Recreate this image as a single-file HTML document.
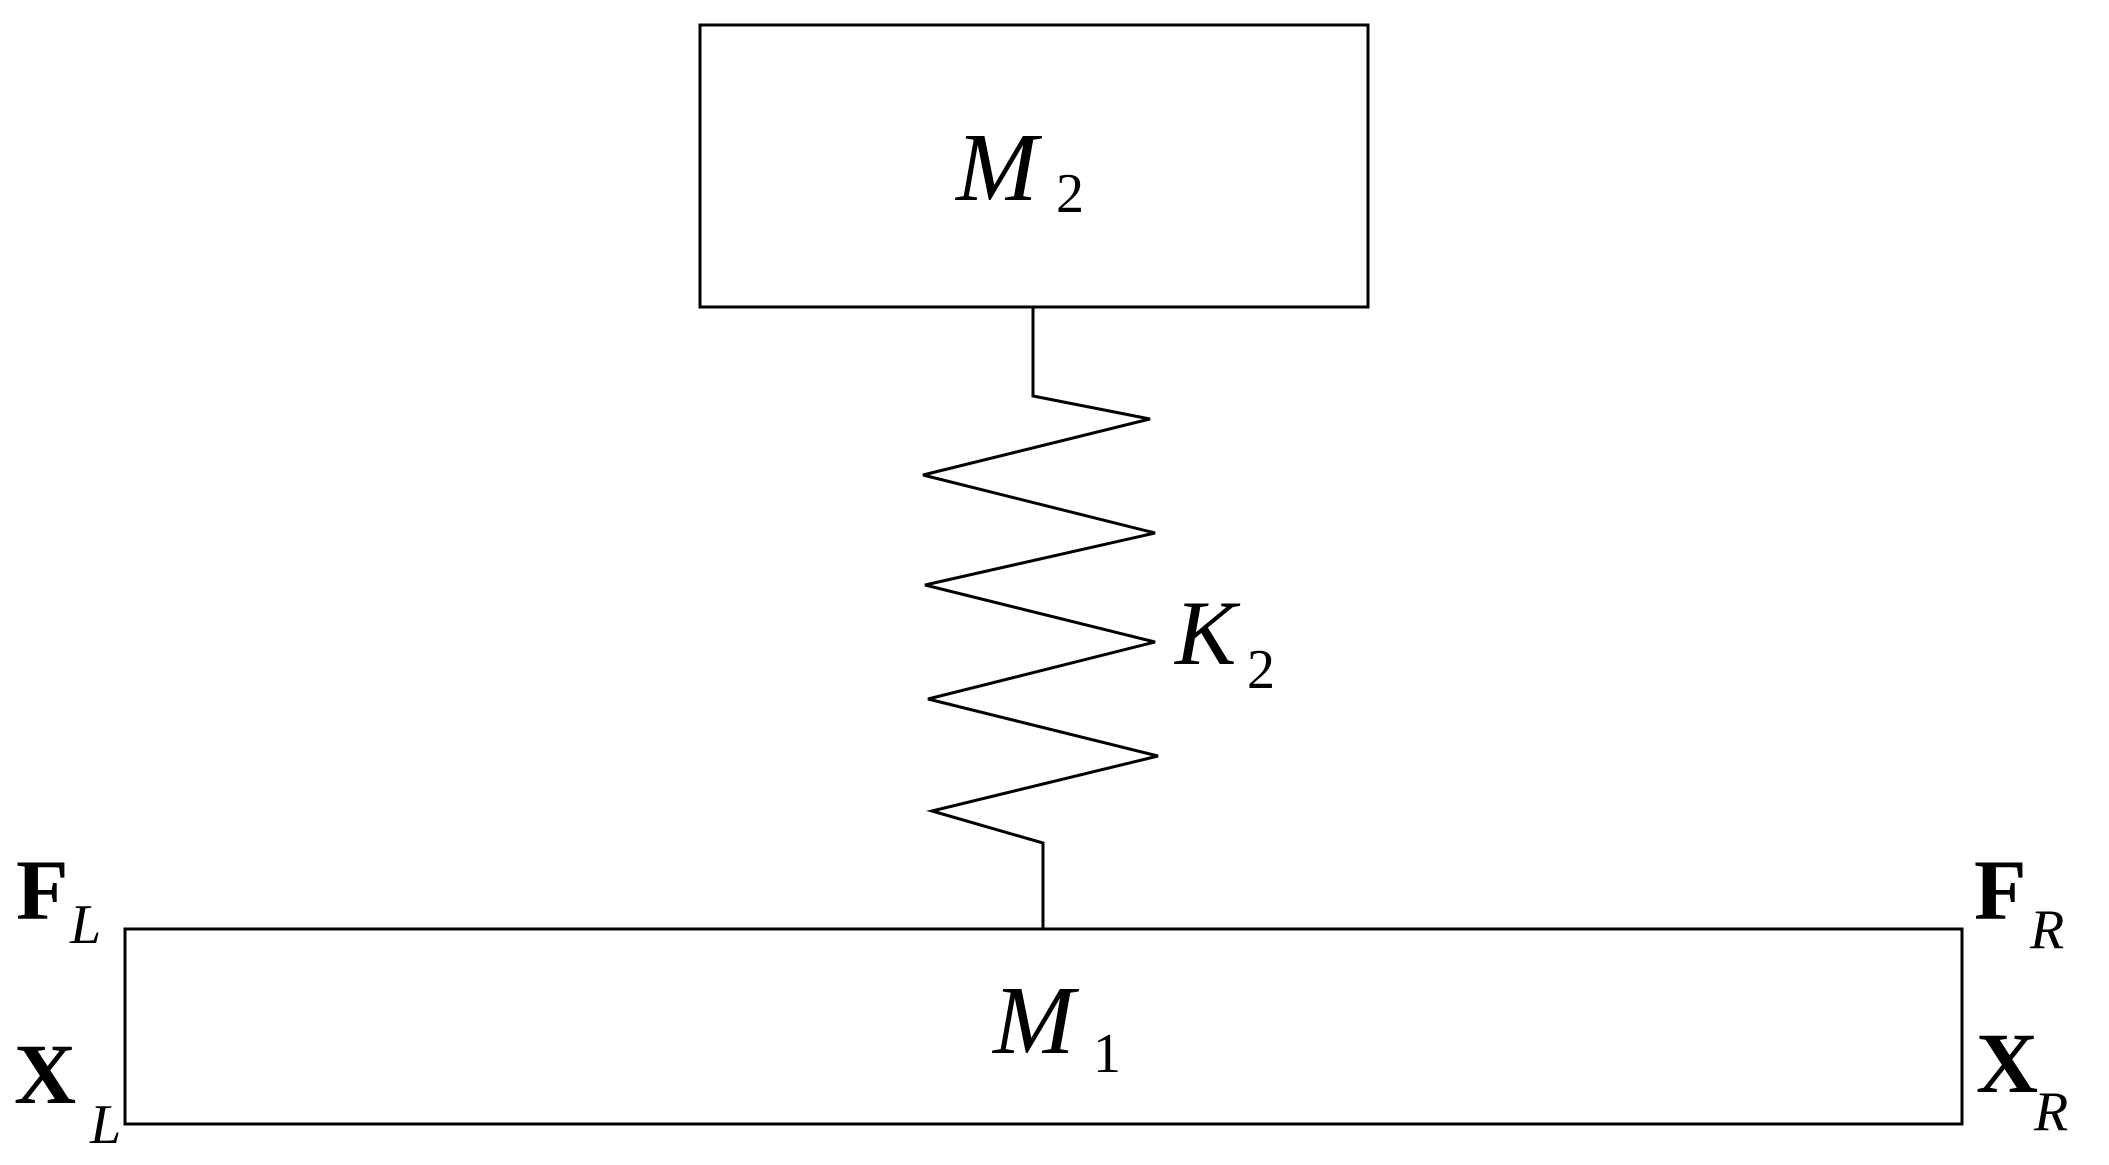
<!DOCTYPE html>
<html><head><meta charset="utf-8"><style>
html,body{margin:0;padding:0;background:#fff;}
svg{display:block;}
text{font-family:"Liberation Serif",serif;fill:#000;}
</style></head><body>
<svg width="2109" height="1165" viewBox="0 0 2109 1165" xmlns="http://www.w3.org/2000/svg">
<rect x="700" y="25" width="668" height="282" fill="none" stroke="#000" stroke-width="3"/>
<rect x="125" y="929" width="1837" height="195" fill="none" stroke="#000" stroke-width="3"/>
<polyline fill="none" stroke="#000" stroke-width="3" stroke-linejoin="miter" points="1033,307 1033,396 1150,419 923,475 1155,533 925,585 1155,642 928,699 1158,756 932,811 1043,843 1043,929"/>
<text x="956" y="200" font-size="98" font-style="italic">M</text>
<text x="1056" y="212" font-size="56">2</text>
<text x="1175" y="664" font-size="92" font-style="italic">K</text>
<text x="1247" y="688" font-size="56">2</text>
<text x="993" y="1053" font-size="98" font-style="italic">M</text>
<text x="1093" y="1072" font-size="56">1</text>
<text x="16" y="919" font-size="86" font-weight="bold">F</text>
<text x="70" y="943" font-size="56" font-style="italic">L</text>
<text x="14" y="1103" font-size="86" font-weight="bold">X</text>
<text x="90" y="1143" font-size="56" font-style="italic">L</text>
<text x="1974" y="919" font-size="86" font-weight="bold">F</text>
<text x="2030" y="948" font-size="56" font-style="italic">R</text>
<text x="1976" y="1092" font-size="86" font-weight="bold">X</text>
<text x="2034" y="1130" font-size="56" font-style="italic">R</text>
</svg>
</body></html>
